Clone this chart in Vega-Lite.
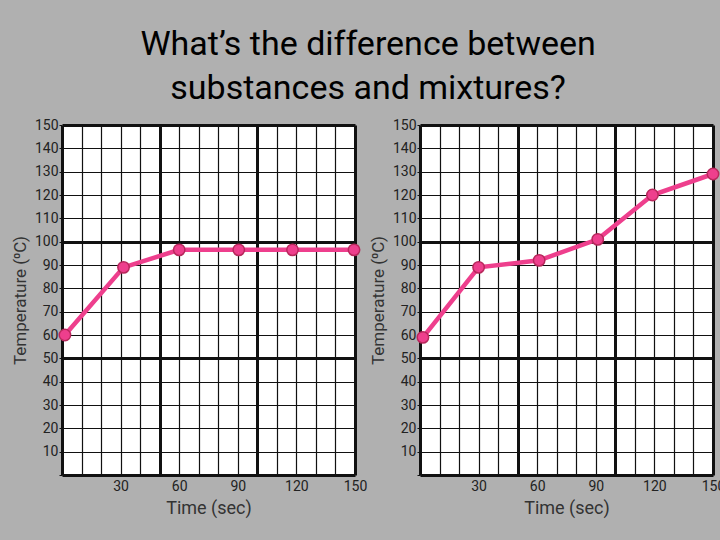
{
  "$schema": "https://vega.github.io/schema/vega-lite/v6.json",
  "background": "#b0b0b0",
  "padding": {"left": 11, "top": 28, "right": 0, "bottom": 27},
  "title": {
    "text": ["What’s the difference between", "substances and mixtures?"],
    "font": "Roboto",
    "fontSize": 34,
    "fontWeight": "normal",
    "color": "#000000",
    "lineHeight": 44,
    "anchor": "middle",
    "offset": 12
  },
  "datasets": {
    "substance": [
      {"time": 1.5, "temp": 60},
      {"time": 31.5, "temp": 89},
      {"time": 60, "temp": 96.5},
      {"time": 90.5, "temp": 96.5},
      {"time": 118, "temp": 96.5},
      {"time": 149.5, "temp": 96.5}
    ],
    "mixture": [
      {"time": 1.5, "temp": 59},
      {"time": 30, "temp": 89},
      {"time": 61, "temp": 92},
      {"time": 91, "temp": 101},
      {"time": 119, "temp": 120},
      {"time": 150, "temp": 129}
    ]
  },
  "bounds": "flush",
  "spacing": 65,
  "hconcat": [
    {
      "width": 293,
      "height": 350,
      "data": {"name": "substance"},
      "encoding": {
        "x": {
          "field": "time", "type": "quantitative", "title": "Time (sec)",
          "scale": {"domain": [0, 150], "nice": false},
          "axis": {
            "values": [0, 10, 20, 30, 40, 50, 60, 70, 80, 90, 100, 110, 120, 130, 140, 150],
            "labelExpr": "datum.value % 30 === 0 && datum.value > 0 ? datum.label : ''",
            "gridWidth": {"condition": {"test": "datum.value % 50 === 0", "value": 3}, "value": 1.2}
          }
        },
        "y": {
          "field": "temp", "type": "quantitative", "title": "Temperature (⁰C)",
          "scale": {"domain": [0, 150], "nice": false},
          "axis": {
            "values": [0, 10, 20, 30, 40, 50, 60, 70, 80, 90, 100, 110, 120, 130, 140, 150],
            "labelExpr": "datum.value > 0 ? datum.label : ''",
            "gridWidth": {"condition": {"test": "datum.value % 50 === 0", "value": 3}, "value": 1.2}
          }
        }
      },
      "layer": [
        {"mark": {"type": "line", "color": "#ee3f8d", "strokeWidth": 4.5}},
        {"mark": {"type": "point", "filled": true, "shape": "circle", "size": 130, "fill": "#ee3f8d", "stroke": "#b8285c", "strokeWidth": 1.5, "opacity": 1}}
      ]
    },
    {
      "width": 293,
      "height": 350,
      "data": {"name": "mixture"},
      "encoding": {
        "x": {
          "field": "time", "type": "quantitative", "title": "Time (sec)",
          "scale": {"domain": [0, 150], "nice": false},
          "axis": {
            "values": [0, 10, 20, 30, 40, 50, 60, 70, 80, 90, 100, 110, 120, 130, 140, 150],
            "labelExpr": "datum.value % 30 === 0 && datum.value > 0 ? datum.label : ''",
            "gridWidth": {"condition": {"test": "datum.value % 50 === 0", "value": 3}, "value": 1.2}
          }
        },
        "y": {
          "field": "temp", "type": "quantitative", "title": "Temperature (⁰C)",
          "scale": {"domain": [0, 150], "nice": false},
          "axis": {
            "values": [0, 10, 20, 30, 40, 50, 60, 70, 80, 90, 100, 110, 120, 130, 140, 150],
            "labelExpr": "datum.value > 0 ? datum.label : ''",
            "gridWidth": {"condition": {"test": "datum.value % 50 === 0", "value": 3}, "value": 1.2}
          }
        }
      },
      "layer": [
        {"mark": {"type": "line", "color": "#ee3f8d", "strokeWidth": 4.5}},
        {"mark": {"type": "point", "filled": true, "shape": "circle", "size": 130, "fill": "#ee3f8d", "stroke": "#b8285c", "strokeWidth": 1.5, "opacity": 1}}
      ]
    }
  ],
  "config": {
    "font": "Roboto",
    "view": {"fill": "#ffffff", "stroke": null},
    "axis": {
      "grid": true,
      "gridColor": "#111111",
      "gridOpacity": 1,
      "domain": false,
      "labelFont": "Roboto",
      "labelFontSize": 14,
      "labelColor": "#222222",
      "titleFont": "Roboto",
      "titleFontWeight": "normal",
      "titleColor": "#333333",
      "titleFontSize": 18
    },
    "axisX": {"ticks": false, "labelPadding": 4, "titlePadding": 6, "labelFlush": false},
    "axisY": {"ticks": true, "tickSize": 3, "tickColor": "#111111", "labelPadding": 1, "titlePadding": 5, "labelFlush": false, "titleFontSize": 17}
  }
}
